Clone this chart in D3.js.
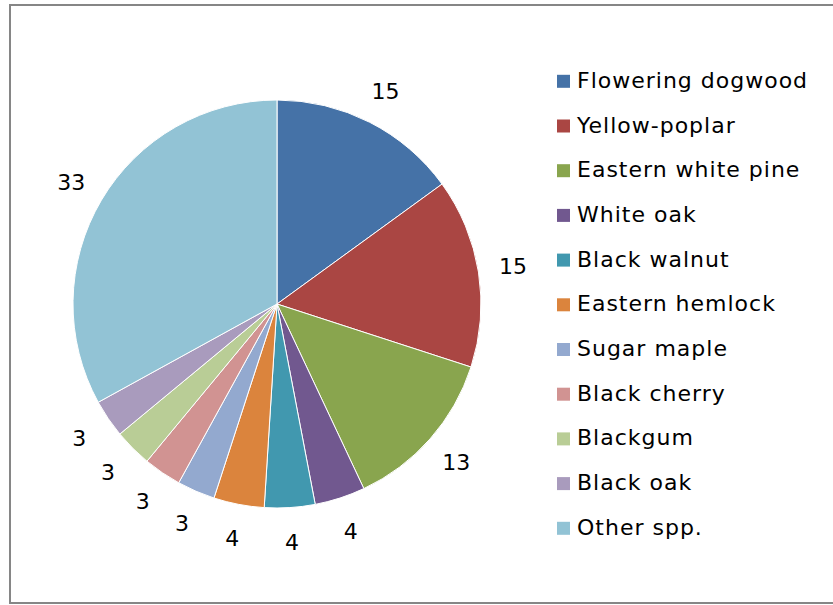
<!DOCTYPE html>
<html>
<head>
<meta charset="utf-8">
<script src="https://cdn.jsdelivr.net/npm/d3@7"></script>
<style>
  html, body { margin: 0; padding: 0; background: #fff; }
  svg { display: block; }
</style>
</head>
<body>
<svg id="chart" width="833" height="605"></svg>
<script>
// Tree species share (percent of stems)
const species = [
  "Flowering dogwood", "Yellow-poplar", "Eastern white pine", "White oak",
  "Black walnut", "Eastern hemlock", "Sugar maple", "Black cherry",
  "Blackgum", "Black oak", "Other spp."
];
const shares = [15, 15, 13, 4, 4, 4, 3, 3, 3, 3, 33];
const sliceColors = [
  "#4572A7", "#AA4643", "#89A54E", "#71588F", "#4198AF", "#DB843D",
  "#93A9CF", "#D19392", "#B9CD96", "#A99BBD", "#92C3D5"
];

const svg = d3.select("#chart");
const W = 833, H = 605;
const font = "'DejaVu Sans', Verdana, sans-serif";

// chart frame (right edge runs past the visible area)
svg.append("rect")
  .attr("x", 10).attr("y", 5)
  .attr("width", W + 20).attr("height", 598)
  .attr("fill", "#fff")
  .attr("stroke", "#868686")
  .attr("stroke-width", 2);

const cx = 277, cy = 304, radius = 204;

const data = species.map((name, i) => ({ name, value: shares[i], color: sliceColors[i] }));

const pie = d3.pie().value(d => d.value).sort(null);
const arcs = pie(data);
const arc = d3.arc().innerRadius(0).outerRadius(radius);

const g = svg.append("g").attr("transform", `translate(${cx},${cy})`);

g.selectAll("path.slice")
  .data(arcs)
  .join("path")
  .attr("class", "slice")
  .attr("d", arc)
  .attr("fill", d => d.data.color)
  .attr("stroke", "#fff")
  .attr("stroke-width", 1);

// value labels just outside each slice
const labelArc = d3.arc().innerRadius(239).outerRadius(239);
g.selectAll("text.val")
  .data(arcs)
  .join("text")
  .attr("class", "val")
  .attr("transform", d => `translate(${labelArc.centroid(d)})`)
  .attr("text-anchor", "middle")
  .attr("dominant-baseline", "central")
  .attr("font-family", font)
  .attr("font-size", 22)
  .attr("fill", "#000")
  .text(d => d3.format("d")(d.data.value));

// legend
const legendY = d3.scalePoint()
  .domain(species)
  .range([81.3, 528.3]);

const legend = svg.append("g");
const rows = legend.selectAll("g.row")
  .data(data)
  .join("g")
  .attr("class", "row")
  .attr("transform", d => `translate(557,${legendY(d.name)})`);

rows.append("rect")
  .attr("x", 0).attr("y", -6.5)
  .attr("width", 13).attr("height", 13)
  .attr("fill", d => d.color);

rows.append("text")
  .attr("x", 20).attr("y", 6.5)
  .attr("font-family", font)
  .attr("font-size", 22)
  .attr("letter-spacing", 1)
  .attr("fill", "#000")
  .text(d => d.name);
</script>
</body>
</html>
